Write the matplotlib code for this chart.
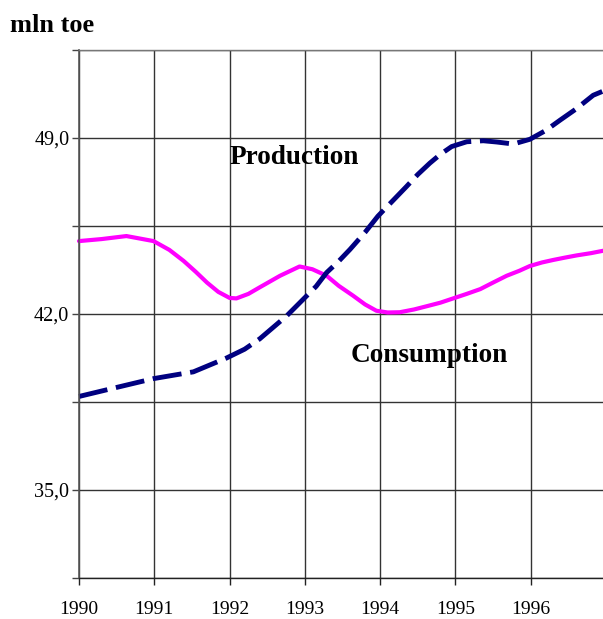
import matplotlib
matplotlib.use("Agg")
import matplotlib.pyplot as plt

# Consumption (magenta solid)
cons_x = [1990.0, 1990.3, 1990.63, 1990.99, 1991.2, 1991.39, 1991.55, 1991.70, 1991.85, 1992.0, 1992.09,
          1992.25, 1992.40, 1992.67, 1992.93, 1993.1, 1993.29, 1993.45, 1993.64, 1993.8, 1993.95,
          1994.1, 1994.26, 1994.45, 1994.62, 1994.8, 1994.97, 1995.15, 1995.33, 1995.5, 1995.68,
          1995.85, 1995.99, 1996.15, 1996.30, 1996.45, 1996.61, 1996.8, 1996.97]
cons_y = [44.90, 44.98, 45.10, 44.90, 44.55, 44.11, 43.68, 43.25, 42.88, 42.64, 42.62,
          42.80, 43.06, 43.52, 43.89, 43.78, 43.52, 43.12, 42.73, 42.38, 42.13,
          42.06, 42.07, 42.18, 42.31, 42.45, 42.62, 42.80, 42.99, 43.25, 43.52,
          43.72, 43.91, 44.05, 44.15, 44.24, 44.33, 44.42, 44.52]

# Production (navy dashed)
prod_x = [1990.0, 1990.5, 1990.99, 1991.52, 1991.96, 1992.20, 1992.40, 1992.76, 1992.98, 1993.15,
          1993.29, 1993.45, 1993.60, 1993.80, 1993.97, 1994.15, 1994.35, 1994.50, 1994.66, 1994.80,
          1994.95, 1995.15, 1995.37, 1995.55, 1995.77, 1995.99, 1996.20, 1996.39, 1996.60, 1996.83, 1996.95]
prod_y = [38.72, 39.08, 39.43, 39.70, 40.25, 40.60, 41.01, 41.93, 42.59, 43.10,
          43.65, 44.10, 44.57, 45.25, 45.89, 46.45, 47.07, 47.55, 48.00, 48.35,
          48.66, 48.85, 48.89, 48.84, 48.76, 48.95, 49.30, 49.71, 50.15, 50.70, 50.85]

yticks = [31.5, 35.0, 38.5, 42.0, 45.5, 49.0, 52.5]
ytick_labels = ["", "35,0", "", "42,0", "", "49,0", ""]
xticks = [1990, 1991, 1992, 1993, 1994, 1995, 1996]
xtick_labels = ["1990", "1991", "1992", "1993", "1994", "1995", "1996"]

plt.rcParams['font.family'] = ['Liberation Serif', 'DejaVu Serif']

fig = plt.figure(figsize=(6.03, 6.19), dpi=100)
ax = fig.add_axes([79/603, 1 - 578/619, (606 - 79)/603, (578 - 50)/619])

ax.set_xlim(1990, 1997)
ax.set_ylim(31.5, 52.5)

ax.set_yticks(yticks)
ax.set_yticklabels(ytick_labels)
ax.set_xticks(xticks)
ax.set_xticklabels(xtick_labels)

ax.grid(True, color='#333333', linewidth=1.0)
ax.set_axisbelow(True)

ax.spines['right'].set_visible(False)
ax.spines['top'].set_color('#777777')
ax.spines['top'].set_linewidth(1.0)
ax.spines['left'].set_color('#555555')
ax.spines['left'].set_linewidth(1.2)
ax.spines['bottom'].set_color('#222222')
ax.spines['bottom'].set_linewidth(1.0)

ax.tick_params(axis='y', direction='out', length=5, width=1, color='#444444', labelsize=14.5, pad=2)
ax.tick_params(axis='x', direction='out', length=5, width=1, color='#222222', labelsize=14, pad=11.5)

ax.plot(cons_x, cons_y, color='#FF00FF', linewidth=3.0, solid_capstyle='round', clip_on=False)
ax.plot(prod_x, prod_y, color='#000080', linewidth=3.5, dashes=(6, 1.8), clip_on=False)

fig.text(10/603, 1 - 25/619, "mln toe", fontsize=19, fontweight='bold', va='center', ha='left')
ax.text(1992.0, 48.23, "Production", fontsize=19.6, fontweight='bold', va='center', ha='left')
ax.text(1993.61, 40.33, "Consumption", fontsize=19.6, fontweight='bold', va='center', ha='left')

fig.savefig("out.png", dpi=100)
